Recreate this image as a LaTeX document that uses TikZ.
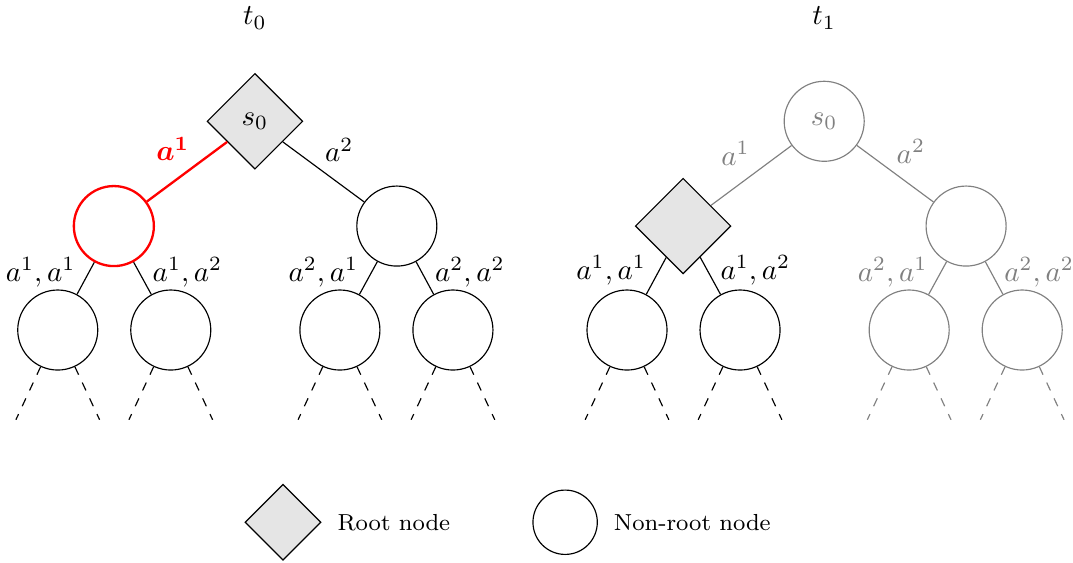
\documentclass[tikz,border=0pt]{standalone}
\usepackage{amsmath}
\usetikzlibrary{shapes.geometric,positioning}
\begin{document}
\begin{tikzpicture}
	\tikzstyle{Vertex} = [circle, draw, minimum size=0.97cm, inner sep=0pt]
	\tikzstyle{Root} = [diamond, draw, fill=black!10, minimum size=1.16cm, inner sep=0pt]
	\tikzstyle{Faded} = [draw=gray, text=gray]
	\tikzstyle{LeftAction} = [above left, xshift=3pt]
	\tikzstyle{RightAction} = [above right, xshift=-3pt]
	\useasboundingbox (0,0) rectangle (13.006,-6.824);

	% first tree
	\node (t0) at (3.09,-0.22) {$t_0$};
	\node (s0) at (3.09,-1.47) [Root] {$s_0$};
	\node (1) at (1.38,-2.74) [Vertex, draw=red, thick] {};
	\node (2) at (4.81,-2.74) [Vertex] {};
	\node (11) at (0.70,-4.0) [Vertex] {};
	\node (12) at (2.07,-4.0) [Vertex] {};
	\node (21) at (4.12,-4.0) [Vertex] {};
	\node (22) at (5.49,-4.0) [Vertex] {};
	\draw[red, thick] (s0) to node[LeftAction, xshift=1.5pt] {$\boldsymbol{a^1}$} (1);
	\draw (s0) to node[RightAction] {$a^2$} (2);
	\draw (1) to node[left, yshift=2pt] {$a^1,a^1$} (11);
	\draw (1) to node[right, yshift=2pt] {$a^1,a^2$} (12);
	\draw (2) to node[left, yshift=2pt] {$a^2,a^1$} (21);
	\draw (2) to node[right, yshift=2pt] {$a^2,a^2$} (22);

	% second tree
	\node (t1) at (9.99,-0.22) {$t_1$};
	\node (s0') at (9.99,-1.47) [Vertex, Faded] {$s_0$};
	\node (1') at (8.28,-2.74) [Root] {};
	\node (2') at (11.71,-2.74) [Vertex, Faded] {};
	\node (11') at (7.60,-4.0) [Vertex] {};
	\node (12') at (8.97,-4.0) [Vertex] {};
	\node (21') at (11.02,-4.0) [Vertex, Faded] {};
	\node (22') at (12.39,-4.0) [Vertex, Faded] {};
	\draw[gray] (s0') to node[LeftAction] {$a^1$} (1');
	\draw[gray] (s0') to node[RightAction] {$a^2$} (2');
	\draw (1') to node[left, yshift=2pt] {$a^1,a^1$} (11');
	\draw (1') to node[right, yshift=2pt] {$a^1,a^2$} (12');
	\draw[gray] (2') to node[left, yshift=2pt] {$a^2,a^1$} (21');
	\draw[gray] (2') to node[right, yshift=2pt] {$a^2,a^2$} (22');

	% subtrees below the last level
	\foreach \n/\c in {11/black, 12/black, 21/black, 22/black, 11'/black, 12'/black, 21'/gray, 22'/gray} {
		\coordinate (\n l) at ([shift={(245:1.2)}]\n.center);
		\coordinate (\n r) at ([shift={(295:1.2)}]\n.center);
		\draw[\c, dashed] (\n.245) -- (\n l);
		\draw[\c, dashed] (\n.295) -- (\n r);
	}

	% legend
	\node (root) at (3.43,-6.33) [Root, minimum size=0.92cm] {};
	\node (rootlabel) [right=2pt of root, font=\footnotesize] {Root node};
	\node (nonroot) at (6.85,-6.33) [Vertex, minimum size=0.78cm] {};
	\node (nonrootlabel) [right=2pt of nonroot, font=\footnotesize] {Non-root node};
\end{tikzpicture}
\end{document}
